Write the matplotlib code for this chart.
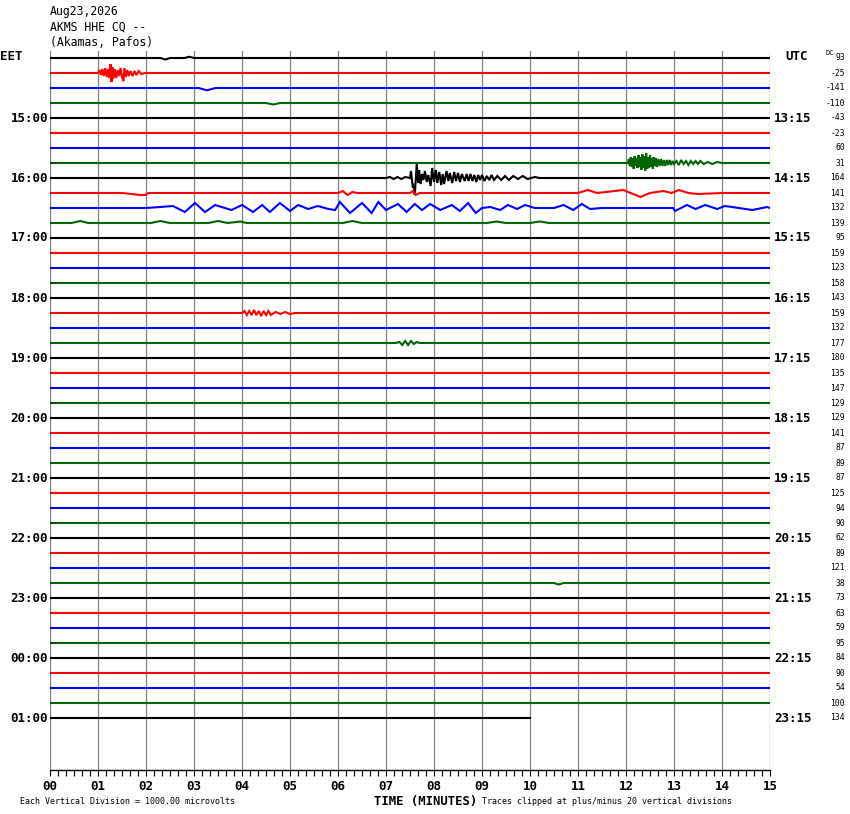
import matplotlib
matplotlib.use("Agg")
import matplotlib.pyplot as plt
import numpy as np

# ---------------- data ----------------
TITLE_LINES = ["Aug23,2026", "AKMS HHE CQ --", "(Akamas, Pafos)"]
LEFT_HOURS = ["15:00", "16:00", "17:00", "18:00", "19:00", "20:00",
              "21:00", "22:00", "23:00", "00:00", "01:00"]
RIGHT_HOURS = ["13:15", "14:15", "15:15", "16:15", "17:15", "18:15",
               "19:15", "20:15", "21:15", "22:15", "23:15"]
DC_VALUES = [93, -25, -141, -110, -43, -23, 60, 31, 164, 141, 132, 139, 95,
             159, 123, 158, 143, 159, 132, 177, 180, 135, 147, 129, 129, 141,
             87, 89, 87, 125, 94, 90, 62, 89, 121, 38, 73, 63, 59, 95, 84, 90,
             54, 100, 134]
TRACE_COLORS = ["#000000", "#ff0000", "#0000ff", "#006400"]
N_TRACES = 45
LAST_TRACE_END = 10.0          # minutes
X_TICK_LABELS = ["%02d" % m for m in range(16)]

# visible features (minute, offset in pixels, positive = downward)
ROW0_MIN = [0, 2.3, 2.4, 2.5, 2.8, 2.9, 3.0, 15]
ROW0_OFF = [0, 0, 1.5, 0, 0, -1.2, 0, 0]

ROW1_MIN = [0, 1.00, 1.03, 1.06, 1.09, 1.12, 1.15, 1.18, 1.21, 1.24, 1.26, 1.28,
            1.30, 1.32, 1.35, 1.38, 1.41, 1.44, 1.47, 1.50, 1.53, 1.55, 1.58,
            1.61, 1.64, 1.68, 1.72, 1.76, 1.80, 1.85, 1.90, 1.98, 15]
ROW1_OFF = [0, 0, -3, 2, -4, 3, -5, 4, -4, 5, -9, 9,
            -6, 6, -4, 5, -3, 3, -5, 4, 8, -5, 4,
            -3, 3, -2, 3, -2, 2, -2, 1, 0, 0]

ROW2_MIN = [0, 3.1, 3.27, 3.45, 15]
ROW2_OFF = [0, 0, 2.3, 0, 0]

ROW3_MIN = [0, 4.5, 4.65, 4.8, 15]
ROW3_OFF = [0, 0, 1.5, 0, 0]

ROW7_MIN = [0, 12.04, 12.06, 12.08, 12.10, 12.12, 12.14, 12.16, 12.18, 12.20,
            12.22, 12.24, 12.26, 12.28, 12.30, 12.32, 12.34, 12.36, 12.38,
            12.40, 12.42, 12.44, 12.46, 12.48, 12.50, 12.52, 12.54, 12.56,
            12.58, 12.60, 12.62, 12.64, 12.67, 12.70, 12.73, 12.76, 12.79,
            12.82, 12.85, 12.88, 12.91, 12.94, 12.97, 13.00, 13.05, 13.10,
            13.15, 13.20, 13.25, 13.30, 13.35, 13.40, 13.45, 13.50, 13.55,
            13.62, 13.70, 13.80, 13.90, 14.0, 15]
ROW7_OFF = [0, 0, -4, 3, -6, 4, -5, 6, -7, 3,
            -5, 5, -8, 4, -6, 7, -9, 5, -7,
            8, -10, 6, -6, 5, -8, 4, -5, 6,
            -6, 3, -5, 4, -4, 3, -4, 3, -3,
            3, -3, 2, -3, 2, -2, 1, -2, 2,
            -3, 1, -2, 2, -2, 1, -2, 1, -2,
            1, -1, 1, -1, 0, 0]

ROW8_MIN = [0, 7.0, 7.08, 7.16, 7.24, 7.32, 7.40, 7.50, 7.52, 7.56, 7.58, 7.60,
            7.64, 7.67, 7.69, 7.72, 7.75, 7.78, 7.81, 7.85, 7.88, 7.93, 7.96,
            8.00, 8.04, 8.07, 8.11, 8.15, 8.18, 8.21, 8.26, 8.30, 8.33, 8.38,
            8.42, 8.46, 8.50, 8.54, 8.58, 8.64, 8.68, 8.72, 8.76, 8.80, 8.84,
            8.88, 8.92, 8.96, 9.00, 9.05, 9.10, 9.15, 9.20, 9.25, 9.32, 9.40,
            9.48, 9.56, 9.65, 9.75, 9.85, 9.95, 10.1, 10.2, 15]
ROW8_OFF = [0, 0, -1, 1, -1, 1, -1, 0, -7, 10, 6, 17,
            -14, 5, -8, 6, -4, 2, -7, 4, -3, 8, -10,
            4, -8, 5, -6, 7, -4, 6, -7, 3, -5, 5,
            -6, 3, -5, 4, -4, 3, -4, 3, -4, 3, -3,
            4, -3, 2, -3, 3, -2, 2, -3, 2, -2, 2,
            -2, 2, -2, 1, -2, 1, -1, 0, 0]

ROW9_MIN = [0, 1.5, 1.88, 1.98, 2.05, 6.0, 6.1, 6.2, 6.3, 6.4, 7.5, 7.56,
            7.62, 7.7, 11.0, 11.2, 11.4, 11.94, 12.1, 12.3, 12.5, 12.78,
            12.95, 13.1, 13.3, 13.5, 14.0, 15]
ROW9_OFF = [0, 0, 2, 2, 0, 0, -2, 2, -1, 0, 0, -2,
            2, 0, 0, -3, 0, -3, 0, 4, 0, -2,
            0, -3, 0, 1, 0, 0]

ROW10_MIN = [0, 2.0, 2.3, 2.56, 2.81, 3.02, 3.23, 3.44, 3.78, 4.0, 4.23, 4.42,
             4.58, 4.79, 5.0, 5.17, 5.38, 5.58, 5.8, 5.94, 6.04, 6.25, 6.5,
             6.7, 6.84, 7.0, 7.25, 7.43, 7.6, 7.75, 7.92, 8.13, 8.37, 8.54,
             8.71, 8.87, 9.0, 9.17, 9.38, 9.54, 9.73, 9.9, 10.1, 10.5, 10.7,
             10.9, 11.08, 11.25, 11.5, 12.98, 13.02, 13.27, 13.45, 13.65, 13.9,
             14.06, 14.35, 14.63, 14.94, 15]
ROW10_OFF = [0, 0, -1, -2, 4, -5, 4, -3, 2, -3, 4, -3,
             4, -5, 3, -3, 1, -2, 1, 2, -6, 5, -5,
             5, -6, 2, -4, 4, -4, 2, -4, 2, -3, 3,
             -5, 5, 0, -1, 2, -3, 1, -3, 0, 0, -3,
             2, -4, 1, 0, 0, 3, -3, 1, -3, 1,
             -2, 0, 2, -1, 0]

ROW11_MIN = [0, 0.45, 0.63, 0.8, 2.1, 2.3, 2.5, 3.3, 3.5, 3.7, 3.96, 4.1,
             6.1, 6.3, 6.5, 9.1, 9.3, 9.5, 10.0, 10.2, 10.4, 15]
ROW11_OFF = [0, 0, -2, 0, 0, -2, 0, 0, -2, 0, -1.5, 0,
             0, -2, 0, 0, -1.5, 0, 0, -1.5, 0, 0]

ROW17_MIN = [0, 4.0, 4.05, 4.1, 4.15, 4.2, 4.25, 4.3, 4.35, 4.4, 4.45, 4.5,
             4.55, 4.6, 4.7, 4.8, 4.9, 5.0, 5.1, 15]
ROW17_OFF = [0, 0, -2, 2, -2, 2, -3, 2, -2, 3, -2, 2,
             -2, 2, -1, 1, -1, 1, 0, 0]

ROW19_MIN = [0, 7.2, 7.28, 7.34, 7.4, 7.46, 7.52, 7.58, 7.64, 7.7, 15]
ROW19_OFF = [0, 0, -1, 2, -2, 2, -2, 1, -1, 0, 0]

ROW35_MIN = [0, 10.5, 10.6, 10.7, 15]
ROW35_OFF = [0, 0, 1.5, 0, 0]

FEATURES = {0: (ROW0_MIN, ROW0_OFF), 1: (ROW1_MIN, ROW1_OFF),
            2: (ROW2_MIN, ROW2_OFF), 3: (ROW3_MIN, ROW3_OFF),
            7: (ROW7_MIN, ROW7_OFF), 8: (ROW8_MIN, ROW8_OFF),
            9: (ROW9_MIN, ROW9_OFF), 10: (ROW10_MIN, ROW10_OFF),
            11: (ROW11_MIN, ROW11_OFF), 17: (ROW17_MIN, ROW17_OFF),
            19: (ROW19_MIN, ROW19_OFF), 35: (ROW35_MIN, ROW35_OFF)}

# ---------------- layout ----------------
W, H = 850, 814
ROW_PX = 15.0
TOP_PX, BOT_PX, LEFT_PX, RIGHT_PX = 51, 770, 50, 770
FIRST_ROW_PX = 58

fig = plt.figure(figsize=(W / 100, H / 100), dpi=100)
ax = fig.add_axes([LEFT_PX / W, (H - BOT_PX) / H,
                   (RIGHT_PX - LEFT_PX) / W, (BOT_PX - TOP_PX) / H])
ax.set_xlim(0, 15)
ax.set_ylim((BOT_PX - FIRST_ROW_PX) / ROW_PX, (TOP_PX - FIRST_ROW_PX) / ROW_PX)

for m in range(16):
    ax.axvline(m, color="#808080", lw=0.9, zorder=1)

for r in range(N_TRACES):
    color = TRACE_COLORS[r % 4]
    if r in FEATURES:
        xs, offs = FEATURES[r]
        xs = np.asarray(xs, float)
        ys = r + np.asarray(offs, float) / ROW_PX
    else:
        end = LAST_TRACE_END if r == N_TRACES - 1 else 15.0
        xs = np.array([0.0, end])
        ys = np.array([r, r], float)
    ax.plot(xs, ys, color=color, lw=1.5, solid_joinstyle="miter", zorder=3)

for s in ["top", "left", "right"]:
    ax.spines[s].set_visible(False)
ax.spines["bottom"].set_color("black")
ax.spines["bottom"].set_linewidth(1.0)
ax.set_yticks([])
ax.set_xticks(range(16))
ax.set_xticklabels(X_TICK_LABELS, fontfamily="DejaVu Sans Mono",
                   fontweight="bold", fontsize=9)
ax.set_xticks(np.arange(0, 15.001, 1 / 6), minor=True)
ax.tick_params(axis="x", which="both", direction="out", length=4.5,
               width=0.8, color="black", pad=2.5)


def ptext(x, y, s, **kw):
    fig.text(x / W, 1 - y / H, s, **kw)


mono = "DejaVu Sans Mono"
for i, line in enumerate(TITLE_LINES):
    ptext(50, 12 + 15 * i, line, fontfamily=mono, fontsize=8.3,
          va="center", ha="left")
ptext(0, 57, "EET", fontfamily=mono, fontsize=9, fontweight="bold",
      va="center", ha="left")
ptext(785, 57, "UTC", fontfamily=mono, fontsize=9, fontweight="bold",
      va="center", ha="left")
for i, lab in enumerate(LEFT_HOURS):
    y = FIRST_ROW_PX + ROW_PX * (4 + 4 * i)
    ptext(48, y, lab, fontfamily=mono, fontsize=9, fontweight="bold",
          va="center", ha="right")
for i, lab in enumerate(RIGHT_HOURS):
    y = FIRST_ROW_PX + ROW_PX * (4 + 4 * i)
    ptext(774, y, lab, fontfamily=mono, fontsize=9, fontweight="bold",
          va="center", ha="left")
for i, v in enumerate(DC_VALUES):
    y = FIRST_ROW_PX + ROW_PX * i
    ptext(845, y, str(v), fontfamily=mono, fontsize=5.8,
          va="center", ha="right")
ptext(825, 53, "DC", fontfamily=mono, fontsize=5, va="center", ha="left")

ptext(426, 801, "TIME (MINUTES)", fontfamily=mono, fontsize=8.8,
      fontweight="bold", va="center", ha="center")
ptext(20, 801, "Each Vertical Division = 1000.00 microvolts", fontfamily=mono,
      fontsize=6, va="center", ha="left")
ptext(482, 801, "Traces clipped at plus/minus 20 vertical divisions",
      fontfamily=mono, fontsize=6, va="center", ha="left")

fig.savefig("out.png", dpi=100, facecolor="white")
